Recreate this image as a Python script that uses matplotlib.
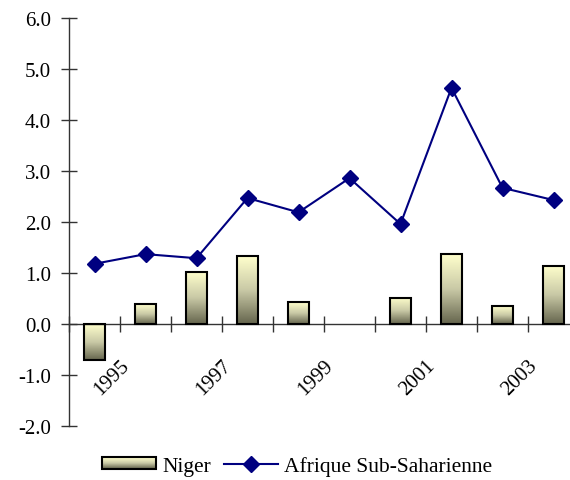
import numpy as np
import matplotlib
matplotlib.use("Agg")
import matplotlib.pyplot as plt
from matplotlib.colors import LinearSegmentedColormap
from matplotlib.patches import Rectangle
from matplotlib.lines import Line2D
from matplotlib.legend_handler import HandlerBase

plt.rcParams['font.family'] = ['Liberation Serif', 'DejaVu Serif']

## données
years = [1994, 1995, 1996, 1997, 1998, 1999, 2000, 2001, 2002, 2003]
niger = [-0.70, 0.39, 1.02, 1.33, 0.43, np.nan, 0.51, 1.37, 0.35, 1.14]
afrique = [1.18, 1.37, 1.29, 2.47, 2.19, 2.86, 1.96, 4.63, 2.67, 2.43]
label_years = [1995, 1997, 1999, 2001, 2003]
yticks = [-2.0, -1.0, 0.0, 1.0, 2.0, 3.0, 4.0, 5.0, 6.0]

grad_cmap = LinearSegmentedColormap.from_list("g", ["#ffffcc", "#c9c9a6", "#66664e"])
navy = "#000080"
fs = 15


class HandlerGradient(HandlerBase):
    # petit rectangle dégradé pour la légende
    def create_artists(self, legend, orig_handle, xdescent, ydescent,
                       width, height, fontsize, trans):
        arts = []
        n = 12
        for i in range(n):
            c = grad_cmap(i / (n - 1))
            r = Rectangle((-xdescent, -ydescent + height * (n - 1 - i) / n),
                          width, height / n, facecolor=c, edgecolor='none',
                          transform=trans)
            arts.append(r)
        arts.append(Rectangle((-xdescent, -ydescent), width, height,
                              facecolor='none', edgecolor='black', lw=1.5,
                              transform=trans))
        return arts


fig = plt.figure(figsize=(5.70, 4.81), dpi=100)
ax = fig.add_axes([69 / 570, 1 - 427 / 481, 510 / 570, 408 / 481])

x = np.arange(len(years))
bars = ax.bar(x, niger, width=0.4, facecolor='none', edgecolor='black',
              linewidth=1.5, zorder=3)

grad = np.linspace(0, 1, 100).reshape(-1, 1)
for b, v in zip(bars, niger):
    if np.isnan(v):
        b.set_visible(False)
        continue
    x0 = b.get_x()
    x1 = x0 + b.get_width()
    img = ax.imshow(grad, extent=[x0, x1, min(0, v), max(0, v)], aspect='auto',
                    cmap=grad_cmap, zorder=2, interpolation='bilinear')
    img.set_clip_path(b)

ax.plot(x, afrique, color=navy, lw=1.5, marker='D', markersize=8.5, zorder=4)

ax.set_xlim(-0.5, len(years) - 0.5)
ax.set_ylim(-2, 6)
ax.set_aspect('auto')

# axes style Excel
for s in ['top', 'right']:
    ax.spines[s].set_visible(False)
ax.spines['bottom'].set_position(('data', 0))
for s in ['bottom', 'left']:
    ax.spines[s].set_linewidth(1)
    ax.spines[s].set_color('#333333')

ax.set_yticks(yticks)
ax.set_yticklabels(["%.1f" % t for t in yticks], fontsize=fs)
ax.tick_params(axis='y', direction='inout', length=12, width=1, pad=7,
               color='#333333')

ax.set_xticks(np.arange(-0.5, len(years), 1.0))
ax.set_xticklabels([])
ax.tick_params(axis='x', direction='inout', length=12, width=1, color='#333333')

for yr in label_years:
    i = years.index(yr)
    ax.text(i - 0.5, -0.63, str(yr), rotation=45, ha='right', va='top',
            rotation_mode='anchor', fontsize=fs)

handles = [Rectangle((0, 0), 1, 1),
           Line2D([], [], color=navy, lw=1.5, marker='D', markersize=8.5)]
fig.legend(handles, ['Niger', 'Afrique Sub-Saharienne'], loc='center',
           bbox_to_anchor=(297 / 570, 1 - 467 / 481), ncol=2, frameon=False,
           fontsize=15.5, handlelength=2.5, handleheight=0.5, handletextpad=0.3,
           columnspacing=0.6, handler_map={Rectangle: HandlerGradient()})

fig.savefig("out.png", dpi=100)
